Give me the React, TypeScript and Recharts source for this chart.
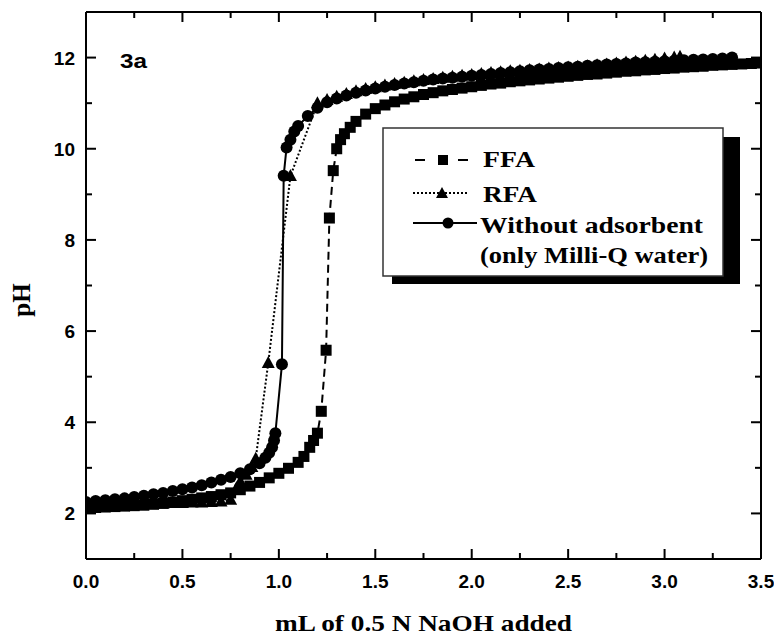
import React from 'react';
import { LineChart, Line, XAxis, YAxis } from 'recharts';

// FFA (squares, dashed)
const ffaMl = [0, 0.05, 0.1, 0.15, 0.2, 0.25, 0.3, 0.35, 0.4, 0.45, 0.5, 0.55, 0.6, 0.65, 0.7, 0.75, 0.8, 0.85, 0.9, 0.95, 1.0, 1.05, 1.1, 1.13, 1.16, 1.18, 1.2, 1.22, 1.245, 1.262, 1.282, 1.3, 1.32, 1.34, 1.37, 1.4, 1.45, 1.5, 1.55, 1.6, 1.65, 1.7, 1.75, 1.8, 1.85, 1.9, 1.95, 2.0, 2.05, 2.1, 2.15, 2.2, 2.25, 2.3, 2.35, 2.4, 2.45, 2.5, 2.55, 2.6, 2.65, 2.7, 2.75, 2.8, 2.85, 2.9, 2.95, 3.0, 3.05, 3.1, 3.15, 3.2, 3.25, 3.3, 3.35, 3.4, 3.45, 3.5];
const ffaPh = [2.12, 2.13, 2.14, 2.15, 2.16, 2.17, 2.18, 2.2, 2.22, 2.25, 2.28, 2.31, 2.34, 2.37, 2.41, 2.45, 2.52, 2.6, 2.68, 2.78, 2.88, 2.99, 3.12, 3.25, 3.45, 3.6, 3.76, 4.24, 5.58, 8.48, 9.52, 10.0, 10.2, 10.33, 10.47, 10.6, 10.76, 10.88, 10.96, 11.03, 11.09, 11.14, 11.19, 11.23, 11.27, 11.3, 11.33, 11.36, 11.39, 11.42, 11.44, 11.47, 11.49, 11.51, 11.53, 11.55, 11.57, 11.59, 11.61, 11.63, 11.64, 11.66, 11.68, 11.7, 11.71, 11.73, 11.74, 11.76, 11.77, 11.79, 11.8, 11.81, 11.83, 11.84, 11.85, 11.86, 11.87, 11.88];

// RFA (triangles, dotted)
const rfaMl = [0, 0.05, 0.1, 0.15, 0.2, 0.25, 0.3, 0.35, 0.4, 0.45, 0.5, 0.55, 0.6, 0.65, 0.7, 0.75, 0.78, 0.8, 0.83, 0.86, 0.88, 0.945, 1.06, 1.2, 1.25, 1.3, 1.35, 1.4, 1.45, 1.5, 1.55, 1.6, 1.65, 1.7, 1.75, 1.8, 1.85, 1.9, 1.95, 2.0, 2.05, 2.1, 2.15, 2.2, 2.25, 2.3, 2.35, 2.4, 2.45, 2.5, 2.55, 2.6, 2.65, 2.7, 2.75, 2.8, 2.85, 2.9, 2.95, 3.0, 3.05, 3.08];
const rfaPh = [2.18, 2.19, 2.19, 2.2, 2.2, 2.21, 2.21, 2.22, 2.22, 2.23, 2.23, 2.24, 2.24, 2.25, 2.26, 2.3, 2.55, 2.7, 2.85, 3.02, 3.2, 5.3, 9.4, 11.0, 11.07, 11.14, 11.2, 11.26, 11.31, 11.35, 11.39, 11.42, 11.45, 11.48, 11.51, 11.53, 11.56, 11.58, 11.6, 11.62, 11.64, 11.66, 11.68, 11.7, 11.71, 11.73, 11.74, 11.76, 11.77, 11.78, 11.8, 11.81, 11.83, 11.85, 11.87, 11.89, 11.91, 11.93, 11.95, 11.98, 12.0, 12.02];

// Without adsorbent (circles, solid)
const waterMl = [0, 0.05, 0.1, 0.15, 0.2, 0.25, 0.3, 0.35, 0.4, 0.45, 0.5, 0.55, 0.6, 0.65, 0.7, 0.75, 0.8, 0.85, 0.9, 0.93, 0.95, 0.965, 0.975, 0.982, 1.016, 1.025, 1.04, 1.06, 1.08, 1.1, 1.15, 1.2, 1.25, 1.3, 1.35, 1.4, 1.45, 1.5, 1.55, 1.6, 1.65, 1.7, 1.75, 1.8, 1.85, 1.9, 1.95, 2.0, 2.05, 2.1, 2.15, 2.2, 2.25, 2.3, 2.35, 2.4, 2.45, 2.5, 2.55, 2.6, 2.65, 2.7, 2.75, 2.8, 2.85, 2.9, 2.95, 3.0, 3.05, 3.1, 3.15, 3.2, 3.25, 3.3, 3.35];
const waterPh = [2.25, 2.27, 2.29, 2.31, 2.33, 2.36, 2.39, 2.42, 2.45, 2.49, 2.53, 2.57, 2.62, 2.68, 2.74, 2.8, 2.88, 2.97, 3.1, 3.22, 3.33, 3.45, 3.6, 3.76, 5.27, 9.41, 10.03, 10.2, 10.38, 10.5, 10.72, 10.9, 11.02, 11.1, 11.17, 11.23, 11.28, 11.32, 11.36, 11.4, 11.43, 11.46, 11.49, 11.52, 11.54, 11.56, 11.58, 11.6, 11.62, 11.64, 11.66, 11.68, 11.7, 11.72, 11.74, 11.75, 11.77, 11.79, 11.8, 11.82, 11.83, 11.85, 11.86, 11.87, 11.89, 11.9, 11.91, 11.92, 11.93, 11.94, 11.95, 11.96, 11.97, 11.98, 12.0];

const xTicks = [0, 0.25, 0.5, 0.75, 1, 1.25, 1.5, 1.75, 2, 2.25, 2.5, 2.75, 3, 3.25, 3.5];
const yTicks = [2, 3, 4, 5, 6, 7, 8, 9, 10, 11, 12];

const zip = (xs: number[], ys: number[]) =>
  xs.slice(0, Math.min(xs.length, ys.length)).map((x, i) => ({ x, y: ys[i] }));

const ffaData = zip(ffaMl, ffaPh);
const rfaData = zip(rfaMl, rfaPh);
const waterData = zip(waterMl, waterPh);

const SANS = '"Liberation Sans", Arial, sans-serif';
const SERIF = '"Liberation Serif", "Times New Roman", serif';

const isMajorX = (v: number) => Math.abs(v * 2 - Math.round(v * 2)) < 1e-6;
const isMajorY = (v: number) => Math.round(v) % 2 === 0;

const BottomTick = (p: any) => {
  const v = p.payload.value;
  const major = isMajorX(v);
  return (
    <g>
      <line x1={p.x} x2={p.x} y1={p.y} y2={p.y - (major ? 10 : 6)} stroke="#000" strokeWidth={2} />
      {major && (
        <text x={p.x} y={p.y + 29} textAnchor="middle" fontFamily={SANS} fontWeight="bold" fontSize={19} fill="#000">
          {v.toFixed(1)}
        </text>
      )}
    </g>
  );
};

const TopTick = (p: any) => {
  const v = p.payload.value;
  const major = isMajorX(v);
  return <line x1={p.x} x2={p.x} y1={p.y} y2={p.y + (major ? 10 : 6)} stroke="#000" strokeWidth={2} />;
};

const LeftTick = (p: any) => {
  const v = p.payload.value;
  const major = isMajorY(v);
  return (
    <g>
      <line x1={p.x} x2={p.x + (major ? 10 : 6)} y1={p.y} y2={p.y} stroke="#000" strokeWidth={2} />
      {major && (
        <text x={p.x - 11} y={p.y + 7} textAnchor="end" fontFamily={SANS} fontWeight="bold" fontSize={19} fill="#000">
          {String(v)}
        </text>
      )}
    </g>
  );
};

const RightTick = (p: any) => {
  const v = p.payload.value;
  const major = isMajorY(v);
  return <line x1={p.x} x2={p.x - (major ? 10 : 6)} y1={p.y} y2={p.y} stroke="#000" strokeWidth={2} />;
};

const squareDot = (p: any) => (
  <rect key={`s${p.index}`} x={p.cx - 5.5} y={p.cy - 5.5} width={11} height={11} fill="#000" />
);
const triDot = (p: any) => (
  <polygon
    key={`t${p.index}`}
    points={`${p.cx},${p.cy - 7} ${p.cx - 6.5},${p.cy + 5} ${p.cx + 6.5},${p.cy + 5}`}
    fill="#000"
  />
);
const circleDot = (p: any) => <circle key={`c${p.index}`} cx={p.cx} cy={p.cy} r={6} fill="#000" />;

export default function App() {
  const W = 766;
  const H = 634;
  return (
    <div style={{ position: 'relative', width: W, height: H, background: '#fff' }}>
      <LineChart width={W} height={H} margin={{ top: 2, right: 11, bottom: 23, left: 18 }}>
        <XAxis
          xAxisId="b"
          type="number"
          dataKey="x"
          domain={[0, 3.5]}
          ticks={xTicks}
          interval={0}
          tick={<BottomTick />}
          tickLine={false}
          tickSize={0}
          tickMargin={0}
          axisLine={{ stroke: '#000', strokeWidth: 2 }}
          height={60}
          allowDataOverflow
        />
        <XAxis
          xAxisId="t"
          orientation="top"
          type="number"
          dataKey="x"
          domain={[0, 3.5]}
          ticks={xTicks}
          interval={0}
          tick={<TopTick />}
          tickLine={false}
          tickSize={0}
          tickMargin={0}
          axisLine={{ stroke: '#000', strokeWidth: 2 }}
          height={2}
          allowDataOverflow
        />
        <YAxis
          yAxisId="l"
          type="number"
          domain={[1, 13]}
          ticks={yTicks}
          interval={0}
          tick={<LeftTick />}
          tickLine={false}
          tickSize={0}
          tickMargin={0}
          axisLine={{ stroke: '#000', strokeWidth: 2 }}
          width={60}
          allowDataOverflow
        />
        <YAxis
          yAxisId="r"
          orientation="right"
          type="number"
          domain={[1, 13]}
          ticks={yTicks}
          interval={0}
          tick={<RightTick />}
          tickLine={false}
          tickSize={0}
          tickMargin={0}
          axisLine={{ stroke: '#000', strokeWidth: 2 }}
          width={2}
          allowDataOverflow
        />
        <Line
          xAxisId="t"
          yAxisId="r"
          data={ffaData}
          dataKey="y"
          stroke="none"
          dot={false}
          activeDot={false}
          isAnimationActive={false}
        />
        <Line
          xAxisId="b"
          yAxisId="l"
          data={ffaData}
          dataKey="y"
          stroke="#000"
          strokeWidth={2}
          strokeDasharray="8 5"
          dot={squareDot}
          activeDot={false}
          isAnimationActive={false}
        />
        <Line
          xAxisId="b"
          yAxisId="l"
          data={rfaData}
          dataKey="y"
          stroke="#000"
          strokeWidth={2}
          strokeDasharray="2 2"
          dot={triDot}
          activeDot={false}
          isAnimationActive={false}
        />
        <Line
          xAxisId="b"
          yAxisId="l"
          data={waterData}
          dataKey="y"
          stroke="#000"
          strokeWidth={2}
          dot={circleDot}
          activeDot={false}
          isAnimationActive={false}
        />
      </LineChart>
      <svg
        width={W}
        height={H}
        style={{ position: 'absolute', left: 0, top: 0, pointerEvents: 'none' }}
      >
        <text x={112} y={60} fontFamily={SANS} fontWeight="bold" fontSize={21} textLength={27} lengthAdjust="spacingAndGlyphs" fill="#000">
          3a
        </text>
        <text
          transform="translate(22,292) rotate(-90)"
          textAnchor="middle"
          fontFamily={SERIF}
          fontWeight="bold"
          fontSize={25}
          fill="#000"
        >
          pH
        </text>
        <text x={267} y={623} fontFamily={SERIF} fontWeight="bold" fontSize={23} textLength={297} lengthAdjust="spacingAndGlyphs" fill="#000">
          mL of 0.5 N NaOH added
        </text>

        {/* legend */}
        <rect x={384} y={129} width={348} height={147} fill="#000" />
        <rect x={375} y={120} width={340} height={148} fill="#fff" stroke="#333" strokeWidth={1.5} />

        <line x1={407} x2={417} y1={152} y2={152} stroke="#000" strokeWidth={2} />
        <line x1={450} x2={460} y1={152} y2={152} stroke="#000" strokeWidth={2} />
        <rect x={430} y={147} width={10} height={10} fill="#000" />
        <text x={475} y={159} fontFamily={SERIF} fontWeight="bold" fontSize={23} textLength={52} lengthAdjust="spacingAndGlyphs" fill="#000">
          FFA
        </text>

        <line x1={405} x2={460} y1={185} y2={185} stroke="#000" strokeWidth={2} strokeDasharray="2 2" />
        <polygon points="434,179 428,190 440,190" fill="#000" />
        <text x={475} y={194} fontFamily={SERIF} fontWeight="bold" fontSize={23} textLength={54} lengthAdjust="spacingAndGlyphs" fill="#000">
          RFA
        </text>

        <line x1={405} x2={469} y1={215} y2={215} stroke="#000" strokeWidth={2} />
        <circle cx={440} cy={215} r={5.5} fill="#000" />
        <text x={472} y={225} fontFamily={SERIF} fontWeight="bold" fontSize={23} textLength={223} lengthAdjust="spacingAndGlyphs" fill="#000">
          Without adsorbent
        </text>
        <text x={472} y={255} fontFamily={SERIF} fontWeight="bold" fontSize={23} textLength={228} lengthAdjust="spacingAndGlyphs" fill="#000">
          (only Milli-Q water)
        </text>
      </svg>
    </div>
  );
}
